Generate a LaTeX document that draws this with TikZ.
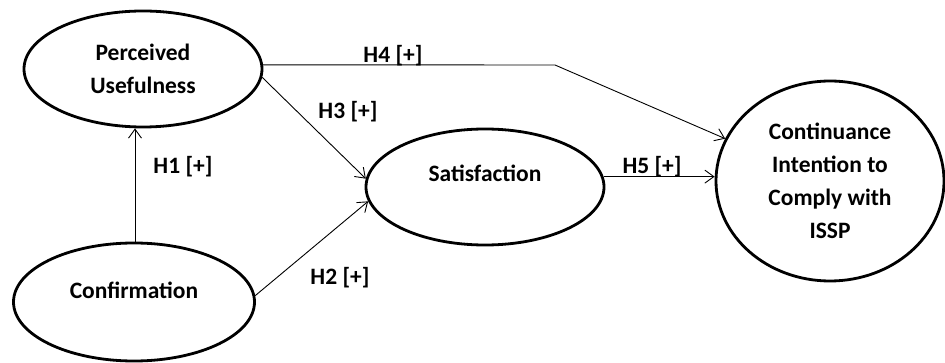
\documentclass[tikz,border=0pt]{standalone}
\usepackage{fontspec}
\setmainfont{Carlito}
\usetikzlibrary{arrows.meta, shapes.geometric}

\begin{document}
\begin{tikzpicture}[x=1pt, y=-1pt,
  construct/.style={ellipse, draw, line width=2.8pt, inner sep=0pt, align=center,
    minimum width=238pt, minimum height=116pt, font=\fontsize{23.5}{33}\selectfont\bfseries},
  link/.style={-{Straight Barb[length=9pt,width=13pt]}, line width=0.9pt},
  hyp/.style={font=\fontsize{23.5}{26}\selectfont\bfseries}]
\useasboundingbox[fill=white] (0,0) rectangle (945,363);
% constructs
\node[construct] (pu) at (143,69) {Perceived\\Usefulness};
\node[construct, minimum width=241pt, minimum height=118pt] (conf) at (134,302)
  {\raisebox{12pt}[\height][\depth]{Confirmation}};
\node[construct] (sat) at (485,187) {\raisebox{14pt}[\height][\depth]{Satisfaction}};
\node[construct, minimum width=228pt, minimum height=200pt] (cont) at (830,181)
  {Continuance\\Intention to\\Comply with\\ISSP};
% hypotheses
\coordinate (bend) at (555,65);
\draw[link] (conf.north -| 135,0) -- (pu.south -| 135,0);
\draw[link] (conf.3) -- (sat.187);
\draw[link] (pu.-4) -- (sat.176);
\draw[link] (pu.2) -- (bend) -- (cont.158);
\draw[link] (sat.5) -- (sat.5 -| cont.west);
\node[hyp] (h1) at (183,167) {H1 [+]};
\node[hyp] (h2) at (340,278) {H2 [+]};
\node[hyp] (h3) at (348,112) {H3 [+]};
\node[hyp] (h4) at (393,56) {H4 [+]};
\node[hyp] (h5) at (652,167) {H5 [+]};
\end{tikzpicture}
\end{document}
